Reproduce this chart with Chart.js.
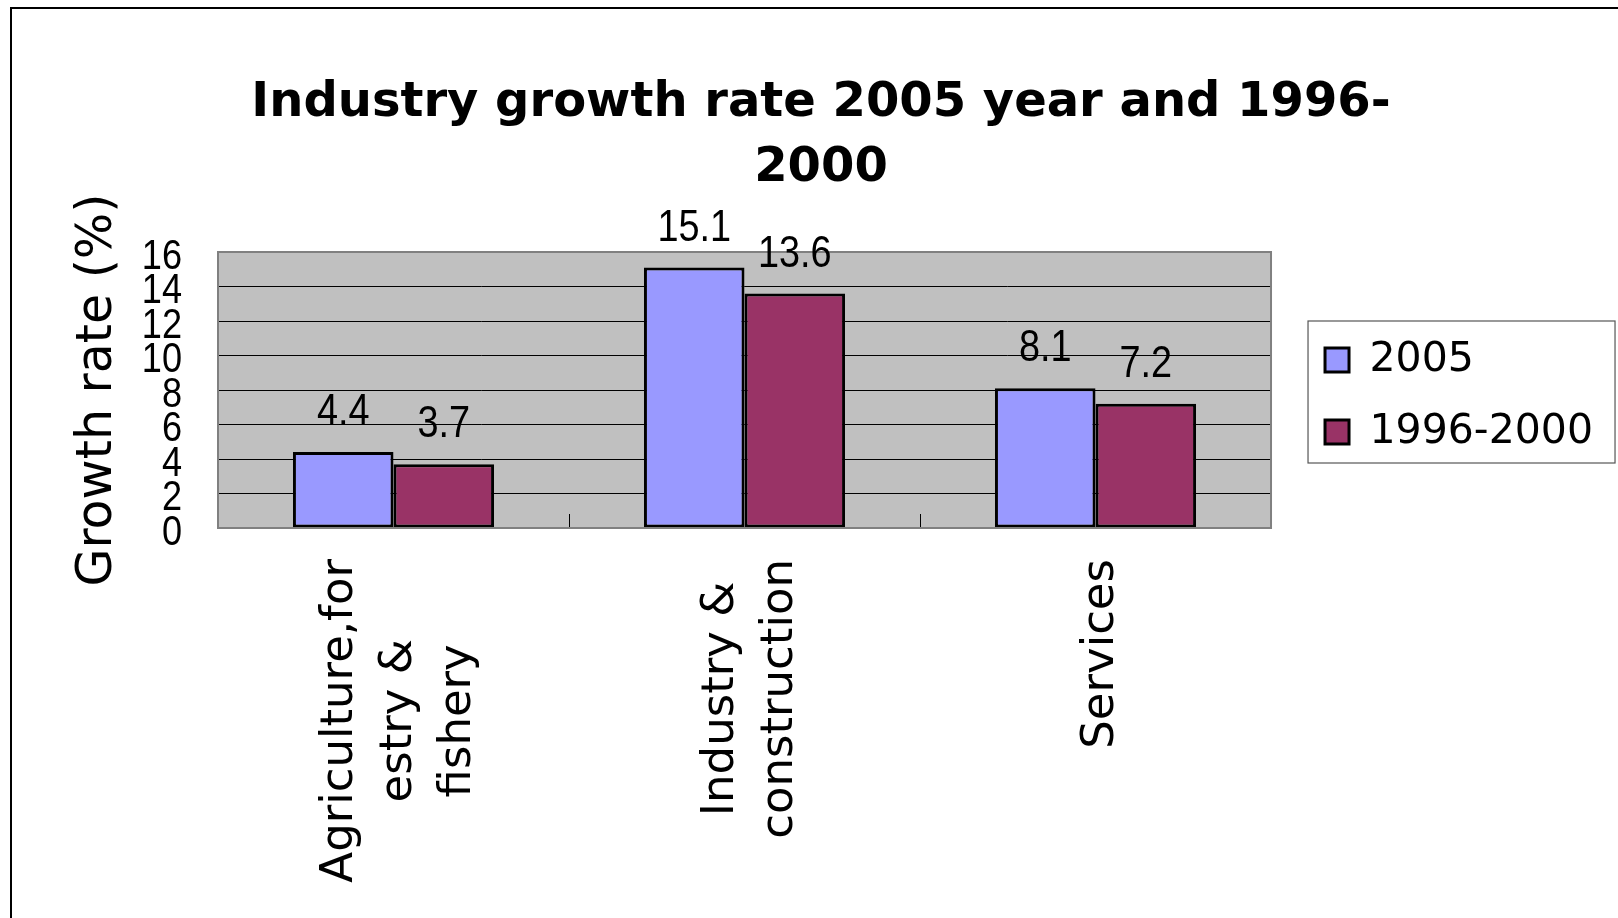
<!DOCTYPE html>
<html><head><meta charset="utf-8">
<script src="https://cdn.jsdelivr.net/npm/chart.js@4.4.1/dist/chart.umd.min.js"></script>
<style>
html,body{margin:0;padding:0;background:#fff;overflow:hidden;width:1618px;height:918px;}
#frame{position:absolute;left:10px;top:7px;width:2000px;height:2000px;border-left:2px solid #000;border-top:2px solid #000;}
#c{position:absolute;left:0;top:0;}
</style></head><body>
<div id="frame"></div>
<canvas id="c" width="1618" height="918"></canvas>
<script>
// ---- data ----
const categories = [["Agriculture,for", "estry &", "fishery"], ["Industry &", "construction"], ["Services"]];
const seriesNames = ["2005", "1996-2000"];
const values2005 = [4.4, 15.1, 8.1];
const values1996to2000 = [3.7, 13.6, 7.2];
const yTickValues = [0, 2, 4, 6, 8, 10, 12, 14, 16];
const titleLines = ["Industry growth rate 2005 year and 1996-", "2000"];
const yAxisTitle = "Growth rate (%)";

const NUMFONT = "'Liberation Sans', Arial, sans-serif";
const SANS = "'DejaVu Sans', Verdana, sans-serif";
const NARROW_X = 0.86; // horizontal squeeze for the tall, narrow numerals
Chart.defaults.color = '#000';

const plotBg = {
  id: 'plotBg',
  beforeDraw(chart) {
    const {ctx, chartArea: a} = chart;
    ctx.save();
    ctx.fillStyle = '#C0C0C0';
    ctx.fillRect(a.left, a.top, a.right - a.left, a.bottom - a.top);
    ctx.restore();
  }
};

function narrowText(ctx, text, x, y, align) {
  ctx.save();
  ctx.translate(x, y);
  ctx.scale(NARROW_X, 1);
  ctx.textAlign = align;
  ctx.fillText(text, 0, 0);
  ctx.restore();
}

const decor = {
  id: 'decor',
  afterDatasetsDraw(chart) {
    const {ctx, chartArea: a, scales} = chart;
    const xs = scales.x, ys = scales.y;
    ctx.save();
    // category separator tick marks (inside the plot)
    ctx.strokeStyle = '#000';
    ctx.lineWidth = 1;
    for (let i = 0; i < categories.length - 1; i++) {
      const bx = Math.round((xs.getPixelForValue(i) + xs.getPixelForValue(i + 1)) / 2) + 0.5;
      ctx.beginPath(); ctx.moveTo(bx, a.bottom); ctx.lineTo(bx, a.bottom - 14); ctx.stroke();
    }
    // plot frame
    ctx.strokeStyle = '#808080';
    ctx.lineWidth = 2;
    ctx.strokeRect(a.left, a.top, a.right - a.left, a.bottom - a.top);
    ctx.fillStyle = '#000';
    ctx.textBaseline = 'middle';
    // y tick labels from the y scale
    ctx.font = '42px ' + NUMFONT;
    ys.ticks.forEach(t => {
      narrowText(ctx, String(t.value), a.left - 36, ys.getPixelForValue(t.value) + 5, 'right');
    });
    // data labels
    ctx.font = '44px ' + NUMFONT;
    chart.data.datasets.forEach((ds, di) => {
      chart.getDatasetMeta(di).data.forEach((el, i) => {
        narrowText(ctx, String(ds.data[i]), el.x, el.y - 39, 'center');
      });
    });
    // category labels (rotated, lines centred)
    ctx.font = '45px ' + SANS;
    ctx.textAlign = 'center';
    categories.forEach((lines, i) => {
      const px = xs.getPixelForValue(i) + 6;
      const maxW = Math.max(...lines.map(l => ctx.measureText(l).width));
      const cy = a.bottom + 31 + maxW / 2;
      ctx.save();
      ctx.translate(px, cy);
      ctx.rotate(-Math.PI / 2);
      lines.forEach((l, j) => ctx.fillText(l, 0, (j - (lines.length - 1) / 2) * 59));
      ctx.restore();
    });
    ctx.restore();
  }
};

const legendFrame = {
  id: 'legendFrame',
  afterDraw(chart) {
    const hb = chart.legend && chart.legend.legendHitBoxes;
    if (!hb || !hb.length) return;
    const {ctx} = chart;
    const cy = hb[0].top + hb[0].height / 2;
    ctx.save();
    ctx.strokeStyle = '#555';
    ctx.lineWidth = 1.2;
    ctx.strokeRect(hb[0].left - 17, cy - 39, 307, 142);
    ctx.restore();
  }
};

new Chart(document.getElementById('c'), {
  type: 'bar',
  data: {
    labels: categories,
    datasets: [
      {label: seriesNames[0], data: values2005, backgroundColor: '#9999FF', borderColor: '#000', borderWidth: 3, borderSkipped: false, categoryPercentage: 0.573, barPercentage: 1, yAxisID: 'y'},
      {label: seriesNames[1], data: values1996to2000, backgroundColor: '#993366', borderColor: '#000', borderWidth: 3, borderSkipped: false, categoryPercentage: 0.573, barPercentage: 1, yAxisID: 'y'}
    ]
  },
  options: {
    responsive: false,
    animation: false,
    devicePixelRatio: 1,
    layout: {padding: {left: 24, right: 0, top: 0, bottom: 0}},
    plugins: {
      tooltip: {enabled: false},
      title: {
        display: true, text: titleLines, color: '#000',
        font: {family: SANS, size: 48, weight: 'bold', lineHeight: 65 / 48},
        padding: {top: 71, bottom: 51}
      },
      legend: {
        position: 'right', align: 'center', maxWidth: 400, fullSize: false,
        title: {display: true, text: '', font: {size: 12, lineHeight: 1}, padding: 0},
        labels: {boxWidth: 24, boxHeight: 24, padding: 31, color: '#000', font: {family: SANS, size: 41}}
      }
    },
    scales: {
      x: {
        type: 'category', offset: true,
        grid: {display: false}, border: {display: false}, ticks: {display: false},
        afterFit(s) { s.height = 390; }
      },
      y: {
        min: 0, max: 16,
        afterBuildTicks(s) { s.ticks = yTickValues.map(v => ({value: v})); },
        grid: {color: '#000', lineWidth: 1, drawTicks: false},
        border: {display: false},
        ticks: {display: false},
        title: {display: true, text: yAxisTitle, color: '#000', font: {family: SANS, size: 49, lineHeight: 1}, padding: {top: 50, bottom: 0}},
        afterFit(s) { s.width = 194; }
      },
      gapIn: {
        type: 'linear', position: 'right', weight: 0,
        grid: {display: false}, border: {display: false}, ticks: {display: false},
        afterFit(s) { s.width = 23; }
      },
      gapOut: {
        type: 'linear', position: 'right', weight: 2000,
        grid: {display: false}, border: {display: false}, ticks: {display: false},
        afterFit(s) { s.width = 15; }
      }
    }
  },
  plugins: [plotBg, decor, legendFrame]
});
</script>
</body></html>
